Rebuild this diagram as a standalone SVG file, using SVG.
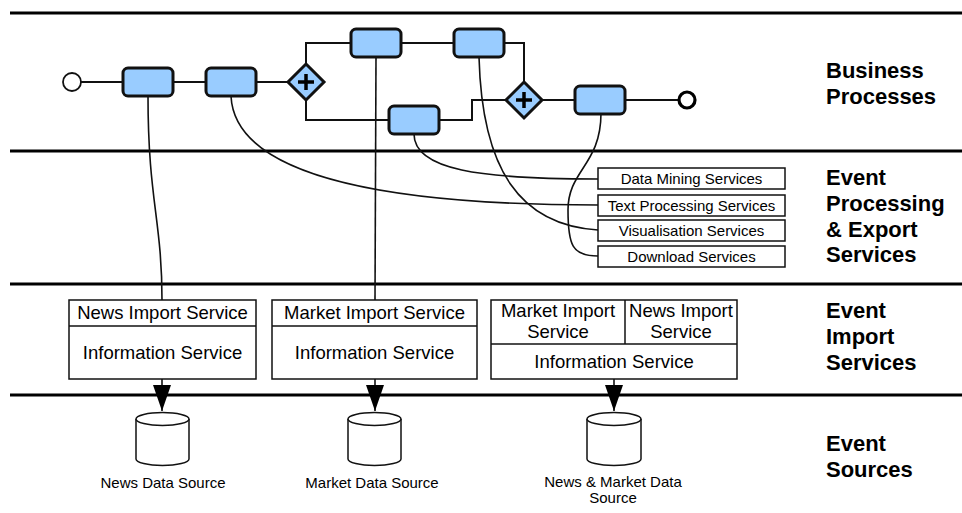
<svg xmlns="http://www.w3.org/2000/svg" width="962" height="513" viewBox="0 0 962 513">
  <style>
    .lane { stroke: #000; stroke-width: 3; }
    .task { fill: #99ccff; stroke: #111; stroke-width: 3; }
    .gw { fill: #99ccff; stroke: #111; stroke-width: 3; stroke-linejoin: miter; }
    .plus { stroke: #000; stroke-width: 3.5; fill: none; }
    .flow { fill: none; stroke: #111; stroke-width: 2; }
    .link { fill: none; stroke: #111; stroke-width: 1.6; }
    .box { fill: #fff; stroke: #111; stroke-width: 1.5; }
    .svc { font-family: "Liberation Sans", Arial, sans-serif; font-size: 15px; fill: #000; text-anchor: middle; }
    .imp { font-family: "Liberation Sans", Arial, sans-serif; font-size: 18.5px; fill: #000; text-anchor: middle; }
    .layer { font-family: "Liberation Sans", Arial, sans-serif; font-size: 22px; font-weight: bold; fill: #000; }
  </style>
  <defs>
    <!-- filled triangle, drawn along +x so orient="auto" follows the line -->
    <marker id="arrow" viewBox="0 0 26 18" refX="26" refY="9" markerWidth="26" markerHeight="18" markerUnits="userSpaceOnUse" orient="auto">
      <path d="M0,0 L26,9 L0,18 Z" fill="#000"/>
    </marker>
  </defs>

  <!-- layer separators -->
  <g id="lanes">
    <line class="lane" x1="10" y1="13" x2="962" y2="13"/>
    <line class="lane" x1="10" y1="151" x2="962" y2="151"/>
    <line class="lane" x1="10" y1="284" x2="962" y2="284"/>
    <line class="lane" x1="10" y1="395" x2="962" y2="395"/>
  </g>

  <!-- layer titles -->
  <g id="layer-titles">
    <text class="layer" x="826" y="78">Business</text>
    <text class="layer" x="826" y="104">Processes</text>
    <text class="layer" x="826" y="185">Event</text>
    <text class="layer" x="826" y="211">Processing</text>
    <text class="layer" x="826" y="237">&amp; Export</text>
    <text class="layer" x="826" y="262">Services</text>
    <text class="layer" x="826" y="318">Event</text>
    <text class="layer" x="826" y="344">Import</text>
    <text class="layer" x="826" y="370">Services</text>
    <text class="layer" x="826" y="451">Event</text>
    <text class="layer" x="826" y="477">Sources</text>
  </g>

  <!-- sequence flows and service links -->
  <g id="connectors">
    <line class="flow" x1="81" y1="82" x2="123" y2="82"/>
    <line class="flow" x1="173" y1="82" x2="206" y2="82"/>
    <line class="flow" x1="256" y1="82" x2="288" y2="82"/>
    <polyline class="flow" points="306,64 306,43 351,43"/>
    <polyline class="flow" points="306,100 306,120 389,120"/>
    <line class="flow" x1="401" y1="43" x2="454" y2="43"/>
    <polyline class="flow" points="504,43 524,43 524,82"/>
    <polyline class="flow" points="439,120 472,120 472,100 506,100"/>
    <line class="flow" x1="542" y1="100" x2="575" y2="100"/>
    <line class="flow" x1="625" y1="100" x2="679" y2="100"/>

    <path class="link" d="M148,96 C148,200 162,220 162,300"/>
    <line class="link" x1="376" y1="57" x2="375" y2="300"/>
    <path class="link" d="M231,96 C235,180 400,205 598,205"/>
    <path class="link" d="M414,134 C414,170 480,179 598,179"/>
    <path class="link" d="M479,57 C482,170 520,225 598,230"/>
    <path class="link" d="M601,113 C601,165 568,170 568,210 C568,245 572,256 598,256"/>

    <line class="link" x1="162" y1="379" x2="162" y2="411" marker-end="url(#arrow)"/>
    <line class="link" x1="375" y1="379" x2="375" y2="411" marker-end="url(#arrow)"/>
    <line class="link" x1="614" y1="379" x2="614" y2="411" marker-end="url(#arrow)"/>
  </g>

  <!-- process events -->
  <g id="start-event">
    <circle cx="72" cy="82" r="9" fill="#fff" stroke="#111" stroke-width="1.8"/>
  </g>
  <g id="end-event">
    <circle cx="687" cy="100" r="8" fill="#fff" stroke="#000" stroke-width="3.2"/>
  </g>

  <!-- tasks -->
  <g id="task-1"><rect class="task" x="123" y="68" width="50" height="28" rx="5"/></g>
  <g id="task-2"><rect class="task" x="206" y="68" width="50" height="28" rx="5"/></g>
  <g id="task-3"><rect class="task" x="351" y="29" width="50" height="28" rx="5"/></g>
  <g id="task-4"><rect class="task" x="454" y="29" width="50" height="28" rx="5"/></g>
  <g id="task-5"><rect class="task" x="389" y="106" width="50" height="28" rx="5"/></g>
  <g id="task-6"><rect class="task" x="575" y="86" width="50" height="28" rx="5"/></g>

  <!-- parallel gateways -->
  <g id="gateway-split">
    <path class="gw" d="M306,64 L324,82 L306,100 L288,82 Z"/>
    <path class="plus" d="M306,74 V90 M298,82 H314"/>
  </g>
  <g id="gateway-join">
    <path class="gw" d="M524,82 L542,100 L524,118 L506,100 Z"/>
    <path class="plus" d="M524,92 V108 M516,100 H532"/>
  </g>

  <!-- processing and export services -->
  <g id="data-mining">
    <rect class="box" x="598" y="168" width="187" height="21"/>
    <text class="svc" x="691.5" y="184">Data Mining Services</text>
  </g>
  <g id="text-processing">
    <rect class="box" x="598" y="195" width="187" height="21"/>
    <text class="svc" x="691.5" y="211">Text Processing Services</text>
  </g>
  <g id="visualisation">
    <rect class="box" x="598" y="220" width="187" height="21"/>
    <text class="svc" x="691.5" y="236">Visualisation Services</text>
  </g>
  <g id="download">
    <rect class="box" x="598" y="246" width="187" height="21"/>
    <text class="svc" x="691.5" y="262">Download Services</text>
  </g>

  <!-- import services -->
  <g id="news-import">
    <rect class="box" x="69" y="300" width="187" height="79"/>
    <line class="box" x1="69" y1="326" x2="256" y2="326"/>
    <text class="imp" x="162.5" y="319">News Import Service</text>
    <text class="imp" x="162.5" y="359">Information Service</text>
  </g>
  <g id="market-import">
    <rect class="box" x="272" y="300" width="205" height="79"/>
    <line class="box" x1="272" y1="326" x2="477" y2="326"/>
    <text class="imp" x="374.5" y="319">Market Import Service</text>
    <text class="imp" x="374.5" y="359">Information Service</text>
  </g>
  <g id="combined-import">
    <rect class="box" x="491" y="300" width="246" height="79"/>
    <line class="box" x1="491" y1="344" x2="737" y2="344"/>
    <line class="box" x1="625" y1="300" x2="625" y2="344"/>
    <text class="imp" x="558" y="317">Market Import</text>
    <text class="imp" x="558" y="338">Service</text>
    <text class="imp" x="681" y="317">News Import</text>
    <text class="imp" x="681" y="338">Service</text>
    <text class="imp" x="614" y="368">Information Service</text>
  </g>

  <!-- data sources -->
  <g id="news-source">
    <path class="box" d="M136,419 V459 A26.5,6.5 0 0 0 189,459 V419"/>
    <ellipse class="box" cx="162.5" cy="419" rx="26.5" ry="6.5"/>
    <text class="svc" x="163" y="488">News Data Source</text>
  </g>
  <g id="market-source">
    <path class="box" d="M348,419 V459 A26.5,6.5 0 0 0 401,459 V419"/>
    <ellipse class="box" cx="374.5" cy="419" rx="26.5" ry="6.5"/>
    <text class="svc" x="372" y="488">Market Data Source</text>
  </g>
  <g id="combined-source">
    <path class="box" d="M587,419 V459 A27,6.5 0 0 0 641,459 V419"/>
    <ellipse class="box" cx="614" cy="419" rx="27" ry="6.5"/>
    <text class="svc" x="613" y="487">News &amp; Market Data</text>
    <text class="svc" x="613" y="503">Source</text>
  </g>
</svg>
